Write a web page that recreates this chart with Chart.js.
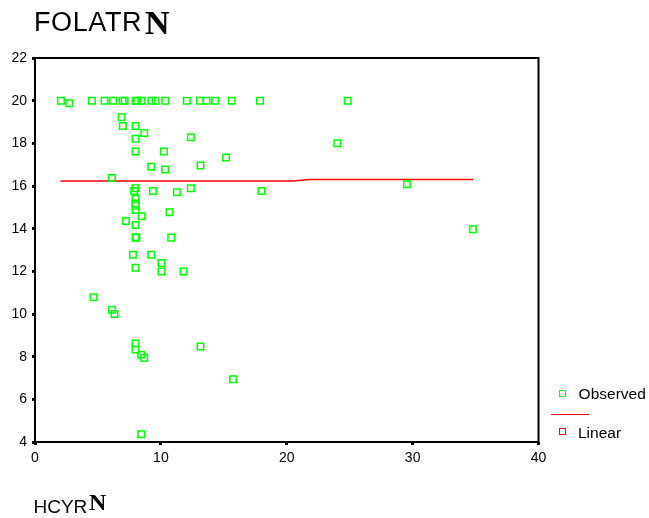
<!DOCTYPE html>
<html>
<head>
<meta charset="utf-8">
<script src="https://cdn.jsdelivr.net/npm/chart.js@4"></script>
<style>
  html, body { margin: 0; padding: 0; background: #fff; }
  #wrap { position: relative; width: 649px; height: 518px; }
  #plot { position: absolute; left: 0; top: 0; }
  .t { position: absolute; white-space: nowrap; line-height: 1; color: #000; }
  .sans { font-family: "Liberation Sans", Arial, sans-serif; }
  .serif { font-family: "Liberation Serif", "Times New Roman", serif; font-weight: bold; }
  .mark { position: absolute; box-sizing: border-box; width: 7px; height: 7px; border: 1.5px solid; }
  .rule { position: absolute; height: 0; border-top: 1.5px solid #ff0000; }
</style>
</head>
<body>
<div id="wrap">
  <canvas id="plot" width="649" height="518"></canvas>

  <span class="t sans" style="left:34px; top:8.8px; font-size:27px; letter-spacing:0.6px;">FOLATR</span>
  <span class="t serif" style="left:145px; top:5.5px; font-size:34px;">N</span>

  <span class="t sans" style="left:33.5px; top:497px; font-size:19px;">HCYR</span>
  <span class="t serif" style="left:89px; top:490px; font-size:24px;">N</span>

  <!-- legend -->
  <div class="mark" style="left:559px; top:390px; border-color:#00ff00;"></div>
  <span class="t sans" style="left:578.6px; top:386.2px; font-size:15.5px;">Observed</span>
  <div class="rule" style="left:551px; top:413.5px; width:38px;"></div>
  <div class="mark" style="left:559px; top:428px; border-color:#ff0000;"></div>
  <span class="t sans" style="left:578px; top:425.2px; font-size:15.5px;">Linear</span>
</div>

<script>
  // HCYR (x) against FOLATR (y), observed cases
  const obsX = [
    2.06, 2.72, 4.52, 5.53, 6.21, 6.96, 7.12, 7.99, 8.12, 8.47, 9.26, 9.58, 10.34, 12.06, 13.10, 13.63, 14.31, 15.63, 17.88, 24.84,
    6.88, 6.98, 7.99, 8.68, 7.99, 12.38, 7.99, 10.24, 15.18, 9.23, 10.34, 13.15, 6.11,
    7.99, 7.88, 9.37, 11.27, 12.38, 17.99, 7.99, 7.99, 7.99, 7.99, 8.47, 10.69, 7.22, 7.99,
    7.99, 8.05, 10.82, 7.78, 9.23, 10.05, 7.99, 10.05, 11.80,
    4.66, 6.11, 6.32, 7.99, 7.99, 8.44, 8.68, 13.15, 15.74, 8.44,
    24.02, 29.55, 34.79
  ];
  const obsY = [
    20, 19.88, 20, 20, 20, 20, 20, 20, 20, 20, 20, 20, 20, 20, 20, 20, 20, 20, 20, 20,
    19.22, 18.81, 18.81, 18.48, 18.21, 18.28, 17.62, 17.62, 17.34, 16.90, 16.77, 16.96, 16.37,
    15.90, 15.77, 15.76, 15.71, 15.90, 15.76, 15.40, 15.18, 15.08, 14.88, 14.58, 14.77, 14.36, 14.17,
    13.58, 13.60, 13.58, 12.78, 12.78, 12.39, 12.17, 11.99, 11.99,
    10.79, 10.20, 10.00, 8.62, 8.34, 8.09, 7.95, 8.48, 6.94, 4.36,
    18.00, 16.08, 13.97
  ];

  // fitted linear curve
  const fitX = [2.01, 20.5, 21.8, 34.8];
  const fitY = [16.24, 16.24, 16.30, 16.30];

  const xTicks = [0, 10, 20, 30, 40];
  const yTicks = [4, 6, 8, 10, 12, 14, 16, 18, 20, 22];

  const observed = obsX.map((x, i) => ({ x: x, y: obsY[i] }));
  const linear = fitX.map((x, i) => ({ x: x, y: fitY[i] }));

  // box round the plot area
  const frame = {
    id: "frame",
    beforeDatasetsDraw(chart) {
      const a = chart.chartArea;
      const ctx = chart.ctx;
      ctx.save();
      ctx.strokeStyle = "#000";
      ctx.lineWidth = 2;
      ctx.strokeRect(a.left, a.top, a.right - a.left, a.bottom - a.top);
      ctx.restore();
    },
  };

  const tickFont = { family: "'Liberation Sans', Arial, sans-serif", size: 14 };

  new Chart(document.getElementById("plot").getContext("2d"), {
    type: "scatter",
    data: {
      datasets: [
        {
          label: "Linear",
          type: "line",
          data: linear,
          borderColor: "#ff0000",
          borderWidth: 1.5,
          pointRadius: 0,
          fill: false,
          tension: 0,
          order: 2,
        },
        {
          label: "Observed",
          data: observed,
          pointStyle: "rect",
          pointRadius: 4.6,
          pointBorderWidth: 1.5,
          borderColor: "#00ff00",
          backgroundColor: "rgba(0,0,0,0)",
          order: 1,
        },
      ],
    },
    options: {
      responsive: false,
      animation: false,
      clip: false,
      layout: { padding: { top: 58, right: 110.5, left: 0, bottom: 0 } },
      plugins: { legend: { display: false }, tooltip: { enabled: false } },
      scales: {
        x: {
          type: "linear",
          min: 0,
          max: 40,
          afterBuildTicks: (s) => { s.ticks = xTicks.map((v) => ({ value: v })); },
          afterFit: (s) => { s.height = 76; },
          border: { display: false },
          grid: { drawOnChartArea: false, tickLength: 3, tickWidth: 3, tickColor: "#000" },
          ticks: { color: "#000", font: tickFont, padding: 5, maxRotation: 0 },
        },
        y: {
          type: "linear",
          min: 4,
          max: 22,
          afterBuildTicks: (s) => { s.ticks = yTicks.map((v) => ({ value: v })); },
          afterFit: (s) => { s.width = 35; },
          border: { display: false },
          grid: { drawOnChartArea: false, tickLength: 3, tickWidth: 3, tickColor: "#000" },
          ticks: { color: "#000", font: tickFont, padding: 5 },
        },
      },
    },
    plugins: [frame],
  });
</script>
</body>
</html>
